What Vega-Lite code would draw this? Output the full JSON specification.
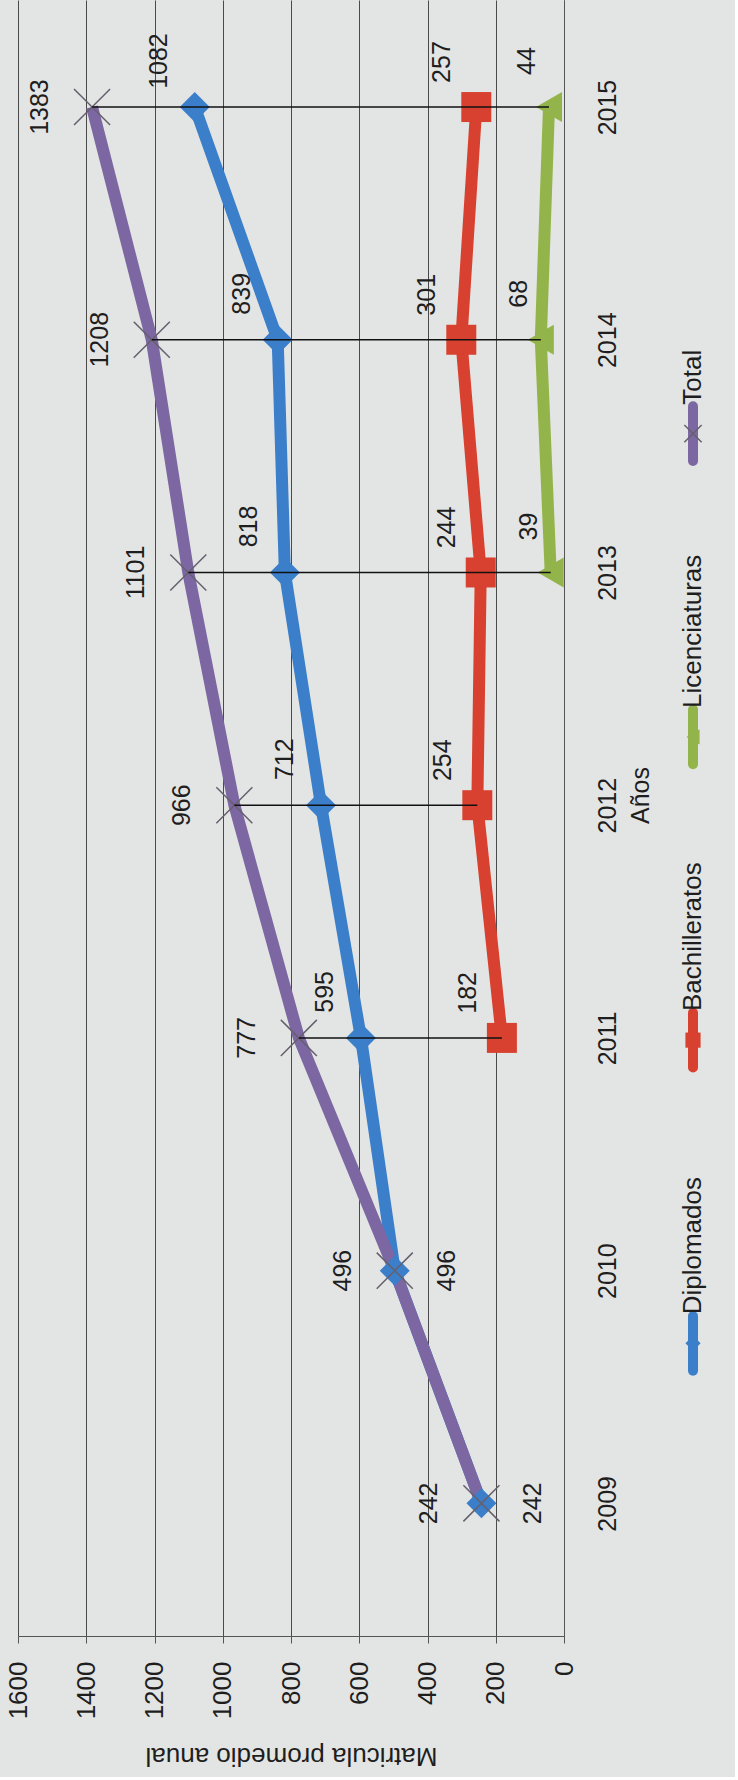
{
  "$schema": "https://vega.github.io/schema/vega-lite/v6.json",
  "background": "#e3e5e4",
  "padding": {"left": 5, "top": 0, "right": 22, "bottom": 0},
  "config": {"view": {"stroke": null}, "font": "Liberation Sans", "concat": {"spacing": 20}},
  "datasets": {
    "matricula": [
      {"year": 2009, "serie": "Diplomados", "value": 242},
      {"year": 2010, "serie": "Diplomados", "value": 496},
      {"year": 2011, "serie": "Diplomados", "value": 595},
      {"year": 2012, "serie": "Diplomados", "value": 712},
      {"year": 2013, "serie": "Diplomados", "value": 818},
      {"year": 2014, "serie": "Diplomados", "value": 839},
      {"year": 2015, "serie": "Diplomados", "value": 1082},
      {"year": 2011, "serie": "Bachilleratos", "value": 182},
      {"year": 2012, "serie": "Bachilleratos", "value": 254},
      {"year": 2013, "serie": "Bachilleratos", "value": 244},
      {"year": 2014, "serie": "Bachilleratos", "value": 301},
      {"year": 2015, "serie": "Bachilleratos", "value": 257},
      {"year": 2013, "serie": "Licenciaturas", "value": 39},
      {"year": 2014, "serie": "Licenciaturas", "value": 68},
      {"year": 2015, "serie": "Licenciaturas", "value": 44},
      {"year": 2009, "serie": "Total", "value": 242},
      {"year": 2010, "serie": "Total", "value": 496},
      {"year": 2011, "serie": "Total", "value": 777},
      {"year": 2012, "serie": "Total", "value": 966},
      {"year": 2013, "serie": "Total", "value": 1101},
      {"year": 2014, "serie": "Total", "value": 1208},
      {"year": 2015, "serie": "Total", "value": 1383}
    ],
    "series": [
      {"serie": "Total"},
      {"serie": "Licenciaturas"},
      {"serie": "Bachilleratos"},
      {"serie": "Diplomados"}
    ]
  },
  "hconcat": [
    {
      "width": 546,
      "height": 1636,
      "data": {"name": "matricula"},
      "encoding": {
        "x": {
          "field": "value", "type": "quantitative",
          "scale": {"domain": [0, 1600], "reverse": true, "nice": false},
          "axis": {
            "values": [0, 200, 400, 600, 800, 1000, 1200, 1400, 1600], "format": "d",
            "title": "Matricula promedio anual",
            "titleAngle": 180, "titleBaseline": "bottom", "titleFontSize": 26, "titleFontWeight": "normal", "titleColor": "#1e1e1e", "titlePadding": 24,
            "labelAngle": 270, "labelAlign": "right", "labelBaseline": "middle", "labelFontSize": 26, "labelColor": "#1e1e1e", "labelPadding": 18,
            "grid": true, "gridColor": "#4a4a4a", "gridWidth": 1,
            "domainColor": "#555555", "tickColor": "#555555", "tickSize": 7
          }
        },
        "y": {
          "field": "year", "type": "quantitative",
          "scale": {"domain": [2008.43, 2015.46], "nice": false, "zero": false},
          "axis": {
            "orient": "right",
            "values": [2009, 2010, 2011, 2012, 2013, 2014, 2015], "format": "d",
            "title": "Años", "titleAngle": 270, "titleBaseline": "top", "titleAlign": "center", "titleY": 795, "titleFontSize": 25, "titleFontWeight": "normal", "titleColor": "#1e1e1e", "titlePadding": 8,
            "labelAngle": 270, "labelAlign": "center", "labelBaseline": "top", "labelFontSize": 25, "labelColor": "#1e1e1e", "labelPadding": 31,
            "ticks": false, "grid": false, "domainColor": "#555555"
          }
        }
      },
      "layer": [
        {
          "mark": {"type": "line", "strokeWidth": 12, "strokeCap": "butt"},
          "encoding": {
            "color": {"field": "serie", "type": "nominal", "legend": null,
              "scale": {"domain": ["Diplomados", "Bachilleratos", "Licenciaturas", "Total"], "range": ["#3b7fca", "#d8412f", "#93b44a", "#7d67a2"]}},
            "order": {"field": "year"}
          }
        },
        {
          "transform": [{"filter": "datum.serie !== 'Total'"}],
          "mark": {"type": "point", "filled": true, "opacity": 1, "size": 900},
          "encoding": {
            "color": {"field": "serie", "type": "nominal", "legend": null,
              "scale": {"domain": ["Diplomados", "Bachilleratos", "Licenciaturas", "Total"], "range": ["#3b7fca", "#d8412f", "#93b44a", "#7d67a2"]}},
            "shape": {"field": "serie", "type": "nominal", "legend": null,
              "scale": {"domain": ["Diplomados", "Bachilleratos", "Licenciaturas"], "range": ["diamond", "square", "triangle-left"]}}
          }
        },
        {
          "transform": [{"filter": "datum.serie === 'Total'"}],
          "mark": {"type": "point", "filled": false, "shape": "M-1,-1L1,1M-1,1L1,-1", "size": 1300, "stroke": "#66606e", "strokeWidth": 1.5, "opacity": 1},
          "encoding": {}
        },
        {
          "transform": [{"aggregate": [{"op": "min", "field": "value", "as": "vmin"}, {"op": "max", "field": "value", "as": "vmax"}], "groupby": ["year"]}],
          "mark": {"type": "rule", "color": "#111111", "strokeWidth": 1.5},
          "encoding": {
            "x": {"field": "vmin", "type": "quantitative"},
            "x2": {"field": "vmax"}
          }
        },
        {
          "transform": [{"filter": "datum.serie === 'Total'"}],
          "mark": {"type": "text", "angle": 270, "align": "center", "baseline": "middle", "fontSize": 25, "color": "#1e1e1e", "dx": 0, "dy": -52},
          "encoding": {"text": {"field": "value", "type": "quantitative"}}
        },
        {
          "transform": [{"filter": "datum.serie === 'Diplomados' && datum.year >= 2011"}],
          "mark": {"type": "text", "angle": 270, "align": "center", "baseline": "middle", "fontSize": 25, "color": "#1e1e1e", "dx": 46, "dy": -36},
          "encoding": {"text": {"field": "value", "type": "quantitative"}}
        },
        {
          "transform": [{"filter": "datum.serie === 'Diplomados' && datum.year <= 2010"}],
          "mark": {"type": "text", "angle": 270, "align": "center", "baseline": "middle", "fontSize": 25, "color": "#1e1e1e", "dx": 0, "dy": 52},
          "encoding": {"text": {"field": "value", "type": "quantitative"}}
        },
        {
          "transform": [{"filter": "datum.serie === 'Bachilleratos'"}],
          "mark": {"type": "text", "angle": 270, "align": "center", "baseline": "middle", "fontSize": 25, "color": "#1e1e1e", "dx": 45, "dy": -34},
          "encoding": {"text": {"field": "value", "type": "quantitative"}}
        },
        {
          "transform": [{"filter": "datum.serie === 'Licenciaturas'"}],
          "mark": {"type": "text", "angle": 270, "align": "center", "baseline": "middle", "fontSize": 25, "color": "#1e1e1e", "dx": 46, "dy": -22},
          "encoding": {"text": {"field": "value", "type": "quantitative"}}
        }
      ]
    },
    {
      "width": 20,
      "height": 1777,
      "data": {"name": "series"},
      "encoding": {
        "y": {"field": "serie", "type": "nominal", "axis": null,
          "scale": {"type": "point", "domain": ["_a", "Total", "Licenciaturas", "Bachilleratos", "Diplomados", "_b"], "padding": 0.43}}
      },
      "layer": [
        {
          "mark": {"type": "point", "filled": false, "shape": "M0,-1L0,1", "size": 3000, "strokeWidth": 10, "strokeCap": "round", "opacity": 1},
          "encoding": {
            "color": {"field": "serie", "type": "nominal", "legend": null,
              "scale": {"domain": ["Diplomados", "Bachilleratos", "Licenciaturas", "Total"], "range": ["#3b7fca", "#d8412f", "#93b44a", "#7d67a2"]}}
          }
        },
        {
          "transform": [{"filter": "datum.serie !== 'Total'"}],
          "mark": {"type": "point", "filled": true, "opacity": 1, "size": 230},
          "encoding": {
            "color": {"field": "serie", "type": "nominal", "legend": null,
              "scale": {"domain": ["Diplomados", "Bachilleratos", "Licenciaturas", "Total"], "range": ["#3b7fca", "#d8412f", "#93b44a", "#7d67a2"]}},
            "shape": {"field": "serie", "type": "nominal", "legend": null,
              "scale": {"domain": ["Diplomados", "Bachilleratos", "Licenciaturas"], "range": ["diamond", "square", "triangle-left"]}}
          }
        },
        {
          "transform": [{"filter": "datum.serie === 'Total'"}],
          "mark": {"type": "point", "filled": false, "shape": "M-1,-1L1,1M-1,1L1,-1", "size": 300, "stroke": "#66606e", "strokeWidth": 1.5, "opacity": 1},
          "encoding": {}
        },
        {
          "mark": {"type": "text", "angle": 270, "align": "left", "baseline": "middle", "fontSize": 26, "color": "#1e1e1e", "dx": 29},
          "encoding": {"text": {"field": "serie", "type": "nominal"}}
        }
      ]
    }
  ]
}
